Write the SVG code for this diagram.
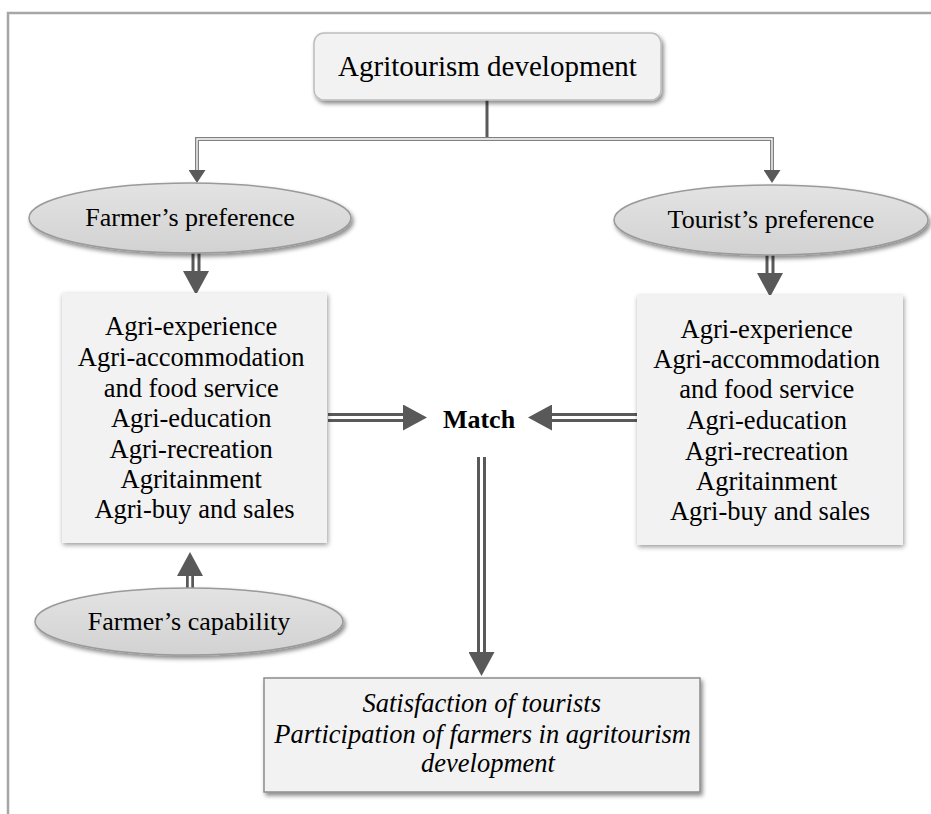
<svg xmlns="http://www.w3.org/2000/svg" width="931" height="814" viewBox="0 0 931 814">
<defs>
<filter id="sh" x="-10%" y="-10%" width="125%" height="135%">
<feDropShadow dx="2" dy="3" stdDeviation="2.2" flood-color="#000" flood-opacity="0.45"/>
</filter>
<filter id="shSoft" x="-10%" y="-10%" width="125%" height="125%">
<feDropShadow dx="1" dy="2" stdDeviation="2.5" flood-color="#000" flood-opacity="0.4"/>
</filter>
<linearGradient id="ellG" x1="0" y1="0" x2="0" y2="1">
<stop offset="0" stop-color="#e3e3e3"/>
<stop offset="1" stop-color="#d2d2d2"/>
</linearGradient>
<marker id="bigHead" markerUnits="userSpaceOnUse" markerWidth="26" markerHeight="26" refX="0" refY="13" orient="auto">
<path d="M0,0 L24,13 L0,26 z" fill="#595959"/>
</marker>
<marker id="smallHead" markerUnits="userSpaceOnUse" markerWidth="14" markerHeight="17" refX="0" refY="8.5" orient="auto">
<path d="M0,0 L13,8.5 L0,17 z" fill="#595959"/>
</marker>
</defs>
<style>
.t{font-family:"Liberation Serif","Times New Roman",serif;fill:#000;text-anchor:middle}
.box{fill:#f2f2f2}
.ell{fill:url(#ellG);stroke:#9a9a9a;stroke-width:1.5}
.frame{fill:none;stroke:#a6a6a6;stroke-width:2.5}
.dblO{fill:none;stroke:#595959;stroke-width:9}
.dblI{fill:none;stroke:#fff;stroke-width:3}
.thinO{fill:none;stroke:#808080;stroke-width:4}
.thinI{fill:none;stroke:#fff;stroke-width:1.3}
</style>
<rect width="931" height="814" fill="#fff"/>
<path class="frame" d="M8,814 V13 H931"/>

<g id="connectors">
<line x1="487" y1="100" x2="487" y2="139" stroke="#595959" stroke-width="3"/>
<path class="thinO" d="M487,139 H197 V170" marker-end="url(#smallHead)"/>
<path class="thinO" d="M487,139 H772 V170" marker-end="url(#smallHead)"/>
<path class="thinI" d="M487,139 H197 V170"/>
<path class="thinI" d="M487,139 H772 V170"/>
<path class="dblO" d="M196,253 V271" marker-end="url(#bigHead)"/>
<path class="dblI" d="M196,253 V271"/>
<path class="dblO" d="M770,255 V273" marker-end="url(#bigHead)"/>
<path class="dblI" d="M770,255 V273"/>
<path class="dblO" d="M328,417.5 H403" marker-end="url(#bigHead)"/>
<path class="dblI" d="M328,417.5 H403"/>
<path class="dblO" d="M637,417.5 H552" marker-end="url(#bigHead)"/>
<path class="dblI" d="M637,417.5 H552"/>
<path class="dblO" d="M481.5,457 V652" marker-end="url(#bigHead)"/>
<path class="dblI" d="M481.5,457 V652"/>
<path class="dblO" d="M190,588 V576" marker-end="url(#bigHead)" style="stroke-width:8"/>
<path class="dblI" d="M190,588 V576" style="stroke-width:2.5"/>
</g>

<g id="title">
<rect x="314" y="33" width="347" height="67" rx="10" fill="#f2f2f2" stroke="#bdbdbd" stroke-width="1.5" filter="url(#sh)"/>
<text class="t" x="487.5" y="76" font-size="29">Agritourism development</text>
</g>

<g id="farmer-preference">
<ellipse class="ell" cx="190" cy="218" rx="161" ry="35" filter="url(#sh)"/>
<text class="t" x="190" y="226" font-size="26">Farmer’s preference</text>
</g>

<g id="tourist-preference">
<ellipse class="ell" cx="771" cy="220" rx="157" ry="35" filter="url(#sh)"/>
<text class="t" x="771" y="228" font-size="26">Tourist’s preference</text>
</g>

<g id="farmer-activities">
<rect class="box" x="62" y="293" width="265" height="250" filter="url(#shSoft)"/>
<text class="t" font-size="26.5">
<tspan x="194.5" y="335">Agri-experience</tspan>
<tspan x="194.5" y="366">Agri-accommodation</tspan>
<tspan x="194.5" y="397">and food service</tspan>
<tspan x="194.5" y="427">Agri-education</tspan>
<tspan x="194.5" y="458">Agri-recreation</tspan>
<tspan x="194.5" y="488">Agritainment</tspan>
<tspan x="194.5" y="518">Agri-buy and sales</tspan>
</text>
</g>

<g id="tourist-activities">
<rect class="box" x="637" y="295" width="266" height="250" filter="url(#shSoft)"/>
<text class="t" font-size="26.5">
<tspan x="770" y="338">Agri-experience</tspan>
<tspan x="770" y="368">Agri-accommodation</tspan>
<tspan x="770" y="398">and food service</tspan>
<tspan x="770" y="429">Agri-education</tspan>
<tspan x="770" y="460">Agri-recreation</tspan>
<tspan x="770" y="490">Agritainment</tspan>
<tspan x="770" y="520">Agri-buy and sales</tspan>
</text>
</g>

<g id="match">
<text class="t" x="479" y="428" font-size="26" font-weight="bold">Match</text>
</g>

<g id="farmer-capability">
<ellipse class="ell" cx="189" cy="621.5" rx="154" ry="33.5" filter="url(#sh)"/>
<text class="t" x="189" y="630" font-size="26">Farmer’s capability</text>
</g>

<g id="outcome">
<rect x="264" y="678" width="436" height="114" fill="#f2f2f2" stroke="#8c8c8c" stroke-width="1.5" filter="url(#sh)"/>
<text class="t" font-size="26.5" font-style="italic">
<tspan x="485" y="712">Satisfaction of tourists</tspan>
<tspan x="486" y="743">Participation of farmers in agritourism</tspan>
<tspan x="488" y="772">development</tspan>
</text>
</g>
</svg>
